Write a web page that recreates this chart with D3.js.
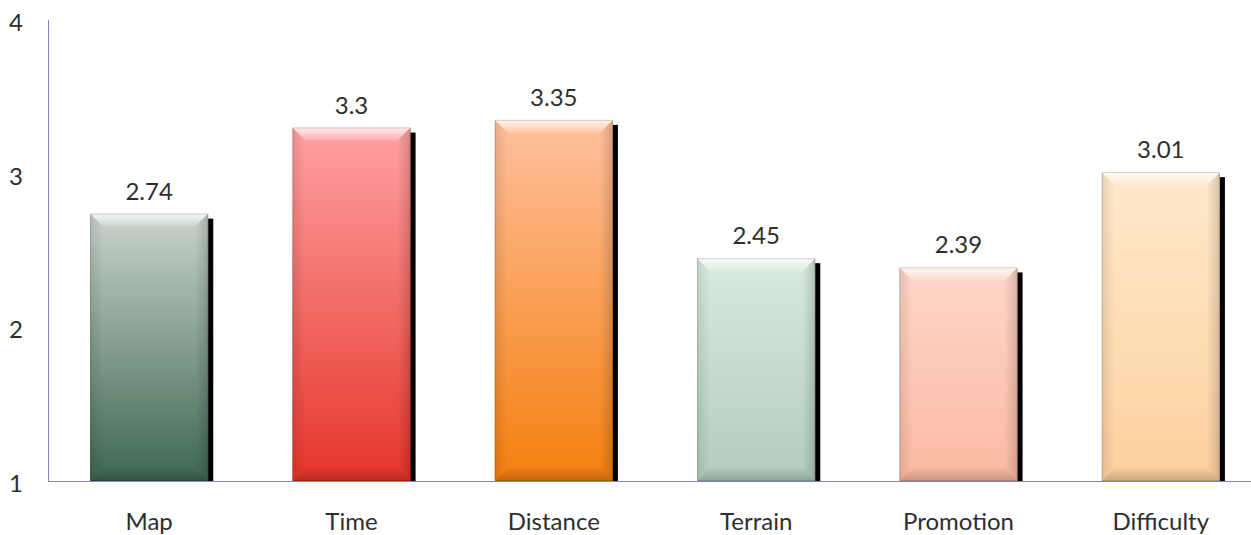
<!DOCTYPE html>
<html>
<head>
<meta charset="utf-8">
<script src="https://cdn.jsdelivr.net/npm/d3@7"></script>
<style>
  html, body { margin: 0; padding: 0; background: #fff; }
  svg { display: block; }
  text { font-family: Lato, "Open Sans", sans-serif; fill: #2e2e2e; }
</style>
</head>
<body>
<svg id="chart" width="1251" height="535"></svg>
<script>
const categories = ["Map", "Time", "Distance", "Terrain", "Promotion", "Difficulty"];
const values = [2.74, 3.3, 3.35, 2.45, 2.39, 3.01];
const yTicks = [1, 2, 3, 4];
const topColors = ["#c9d3cd", "#ffa2a2", "#ffc09e", "#d9eae0", "#ffd6c8", "#ffe9cb"];
const bottomColors = ["#3d6750", "#e5352a", "#f47f0e", "#b2ccbe", "#fbb9a2", "#fdd09e"];

const W = 1251, H = 535;
const svg = d3.select("#chart");
const defs = svg.append("defs");

const x = d3.scaleBand().domain(categories).range([48, 1262])
  .paddingInner(0.416).paddingOuter(0.208);
const y = d3.scaleLinear().domain([1, 4]).range([481, 20]);

// vertical body gradients
categories.forEach((c, i) => {
  const g = defs.append("linearGradient").attr("id", "body" + i)
    .attr("x1", 0).attr("y1", 0).attr("x2", 0).attr("y2", 1);
  g.append("stop").attr("offset", "0%").attr("stop-color", topColors[i]);
  g.append("stop").attr("offset", "100%").attr("stop-color", bottomColors[i]);
});
// bevel gradients
const topBevel = defs.append("linearGradient").attr("id", "topBevel")
  .attr("x1", 0).attr("y1", 0).attr("x2", 0).attr("y2", 1);
topBevel.append("stop").attr("offset", "0%").attr("stop-color", "#fff").attr("stop-opacity", 0.8);
topBevel.append("stop").attr("offset", "100%").attr("stop-color", "#fff").attr("stop-opacity", 0.15);
const botBevel = defs.append("linearGradient").attr("id", "botBevel")
  .attr("x1", 0).attr("y1", 0).attr("x2", 0).attr("y2", 1);
botBevel.append("stop").attr("offset", "0%").attr("stop-color", "#000").attr("stop-opacity", 0.02);
botBevel.append("stop").attr("offset", "100%").attr("stop-color", "#000").attr("stop-opacity", 0.2);
const leftBevel = defs.append("linearGradient").attr("id", "leftBevel")
  .attr("x1", 0).attr("y1", 0).attr("x2", 1).attr("y2", 0);
leftBevel.append("stop").attr("offset", "0%").attr("stop-color", "#000").attr("stop-opacity", 0.1);
leftBevel.append("stop").attr("offset", "100%").attr("stop-color", "#000").attr("stop-opacity", 0.0);
const rightBevel = defs.append("linearGradient").attr("id", "rightBevel")
  .attr("x1", 0).attr("y1", 0).attr("x2", 1).attr("y2", 0);
rightBevel.append("stop").attr("offset", "0%").attr("stop-color", "#000").attr("stop-opacity", 0.0);
rightBevel.append("stop").attr("offset", "100%").attr("stop-color", "#000").attr("stop-opacity", 0.16);

const bw = x.bandwidth();
const bev = 13;
const base = y(1);

const bars = svg.append("g").selectAll("g").data(values).join("g");

// drop shadow
bars.append("rect")
  .attr("x", (d, i) => x(categories[i]) + 5)
  .attr("y", d => y(d) + 5)
  .attr("width", bw)
  .attr("height", d => base - y(d) - 5)
  .attr("fill", "#000");

// bar body
bars.append("rect")
  .attr("x", (d, i) => x(categories[i]))
  .attr("y", d => y(d))
  .attr("width", bw)
  .attr("height", d => base - y(d))
  .attr("fill", (d, i) => `url(#body${i})`);

// bevel facets
function poly(pts) { return pts.map(p => p.join(",")).join(" "); }
bars.append("polygon").attr("fill", "url(#leftBevel)")
  .attr("points", (d, i) => { const l = x(categories[i]), t = y(d);
    return poly([[l, t], [l + bev, t + bev], [l + bev, base - bev], [l, base]]); });
bars.append("polygon").attr("fill", "url(#rightBevel)")
  .attr("points", (d, i) => { const r = x(categories[i]) + bw, t = y(d);
    return poly([[r, t], [r - bev, t + bev], [r - bev, base - bev], [r, base]]); });
bars.append("polygon").attr("fill", "url(#botBevel)")
  .attr("points", (d, i) => { const l = x(categories[i]), r = l + bw;
    return poly([[l, base], [l + bev, base - bev], [r - bev, base - bev], [r, base]]); });
bars.append("polygon").attr("fill", "url(#topBevel)")
  .attr("points", (d, i) => { const l = x(categories[i]), r = l + bw, t = y(d);
    return poly([[l, t], [r, t], [r - bev, t + bev], [l + bev, t + bev]]); });
// thin edge
bars.append("rect")
  .attr("x", (d, i) => x(categories[i]) + 0.5)
  .attr("y", d => y(d) + 0.5)
  .attr("width", bw - 1)
  .attr("height", d => base - y(d) - 1)
  .attr("fill", "none")
  .attr("stroke", "#000").attr("stroke-opacity", 0.15);

// value labels
bars.append("text")
  .attr("x", (d, i) => x(categories[i]) + bw / 2)
  .attr("y", d => y(d) - 14)
  .attr("text-anchor", "middle")
  .attr("font-size", 24)
  .text(d => d);

// axes
const axisColor = "#8586c0";
svg.append("line").attr("x1", 48.5).attr("x2", 48.5).attr("y1", y(4)).attr("y2", base)
  .attr("stroke", axisColor).attr("stroke-width", 1);
svg.append("line").attr("x1", 48).attr("x2", W).attr("y1", base + 0.5).attr("y2", base + 0.5)
  .attr("stroke", axisColor).attr("stroke-width", 1.2);

svg.append("g").selectAll("text").data(yTicks).join("text")
  .attr("x", 9).attr("y", d => y(d) + 11)
  .attr("font-size", 24)
  .text(d => d);

svg.append("g").selectAll("text").data(categories).join("text")
  .attr("x", d => x(d) + bw / 2).attr("y", 530)
  .attr("text-anchor", "middle")
  .attr("font-size", 24)
  .text(d => d);
</script>
</body>
</html>
